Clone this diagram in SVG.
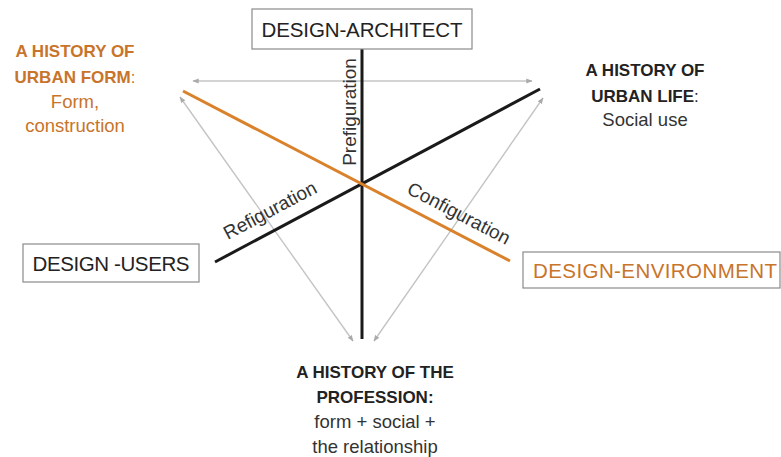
<svg xmlns="http://www.w3.org/2000/svg" width="781" height="457" viewBox="0 0 781 457">
<style>
text{font-family:"Liberation Sans",Arial,sans-serif;}
.box{fill:#fff;stroke:#8a8a8a;stroke-width:1.2;}
.bt{font-size:20.5px;fill:#222;text-anchor:middle;}
.hd{font-size:17px;font-weight:bold;fill:#222;text-anchor:middle;}
.sub{font-size:18.5px;fill:#333;text-anchor:middle;}
.or{fill:#c8742a;}
.gray{stroke:#c4c4c4;stroke-width:1.4;fill:none;marker-start:url(#ah);marker-end:url(#ah);}
.lbl{font-size:19px;fill:#333;text-anchor:middle;}
</style>
<defs>
<marker id="ah" viewBox="0 0 10 10" refX="9" refY="5" markerWidth="4.5" markerHeight="4.5" orient="auto-start-reverse">
<path d="M0,1 L10,5 L0,9 z" fill="#aaa"/>
</marker>
</defs>
<rect width="781" height="457" fill="#fff"/>
<g id="connectors">
<line class="gray" x1="193" y1="81" x2="532" y2="81"/>
<line class="gray" x1="180" y1="97" x2="353" y2="341"/>
<line class="gray" x1="543" y1="98" x2="374" y2="341"/>
<line x1="362" y1="49" x2="362" y2="339" stroke="#1a1a1a" stroke-width="3"/>
<line x1="215" y1="262" x2="540" y2="89" stroke="#1a1a1a" stroke-width="3"/>
<line x1="183" y1="91" x2="510" y2="261" stroke="#d9822b" stroke-width="3"/>
<text class="lbl" transform="translate(356,112) rotate(-90)">Prefiguration</text>
<text class="lbl" transform="translate(273,216) rotate(-28)">Refiguration</text>
<text class="lbl or" transform="translate(456,219) rotate(27.5)">Configuration</text>
</g>
<g id="design-architect">
<rect class="box" x="252" y="9" width="220" height="40"/>
<text class="bt" x="362" y="37" textLength="201">DESIGN-ARCHITECT</text>
</g>
<g id="design-users">
<rect class="box" x="23" y="244" width="176" height="38"/>
<text class="bt" x="111" y="271" textLength="157">DESIGN -USERS</text>
</g>
<g id="design-environment">
<rect class="box" x="523" y="252" width="257" height="36"/>
<text class="bt or" x="655" y="278" textLength="244">DESIGN-ENVIRONMENT</text>
</g>
<g id="urban-form">
<text class="hd or" x="75" y="57">A HISTORY OF</text>
<text class="hd or" x="75" y="83">URBAN FORM<tspan font-weight="normal">:</tspan></text>
<text class="sub or" x="75" y="108">Form,</text>
<text class="sub or" x="75" y="132">construction</text>
</g>
<g id="urban-life">
<text class="hd" x="645" y="76">A HISTORY OF</text>
<text class="hd" x="645" y="102">URBAN LIFE<tspan font-weight="normal">:</tspan></text>
<text class="sub" x="645" y="126">Social use</text>
</g>
<g id="profession">
<text class="hd" x="375" y="378">A HISTORY OF THE</text>
<text class="hd" x="375" y="403">PROFESSION:</text>
<text class="sub" x="375" y="428">form + social +</text>
<text class="sub" x="375" y="453">the relationship</text>
</g>
</svg>
